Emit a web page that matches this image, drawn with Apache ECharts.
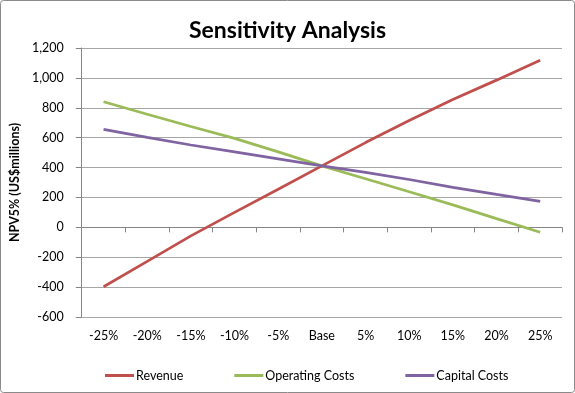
<!DOCTYPE html>
<html><head><meta charset="utf-8">
<script src="https://cdn.jsdelivr.net/npm/echarts@6/dist/echarts.min.js"></script>
<style>html,body{margin:0;padding:0;background:#fff}#c{width:575px;height:393px}</style>
</head><body><div id="c"></div>
<script>
const categories = ['-25%','-20%','-15%','-10%','-5%','Base','5%','10%','15%','20%','25%'];
const revenue = [-398,-228,-57,100,255,411,567,715,855,985,1118];
const operatingCosts = [840,757,675,595,505,411,325,238,150,58,-33];
const capitalCosts = [655,602,551,505,458,411,368,320,268,220,173];
const seriesNames = ['Revenue','Operating Costs','Capital Costs'];
const seriesColors = ['#C0504D','#9BBB59','#8064A2'];
const yMin = -600, yMax = 1200, yInterval = 200;

const font = 'Lato, Carlito, sans-serif';
const chart = echarts.init(document.getElementById('c'), null, {renderer:'canvas'});
const data = [revenue, operatingCosts, capitalCosts];
chart.setOption({
  animation:false,
  backgroundColor:'#fff',
  title:{text:'Sensitivity Analysis', left:'center', top:14,
    textStyle:{fontFamily:font, fontWeight:'bold', fontSize:23, color:'#000'}},
  grid:{left:71, right:13, top:48, bottom:76, containLabel:false},
  legend:{left:100, top:364, itemWidth:29, itemHeight:3, itemGap:51, icon:'rect',
    textStyle:{fontFamily:font, fontSize:12.5, color:'#000', padding:[0,0,0,-3]},
    data:seriesNames},
  xAxis:{type:'category', data:categories, boundaryGap:true,
    axisLine:{lineStyle:{color:'#868686', width:1}},
    axisTick:{show:true, length:5, lineStyle:{color:'#868686'}, alignWithLabel:false},
    axisLabel:{fontFamily:font, fontSize:12.5, color:'#000', margin:12, interval:0},
    splitLine:{show:false}},
  yAxis:{type:'value', min:yMin, max:yMax, interval:yInterval,
    name:'NPV5% (US$millions)', nameLocation:'middle', nameGap:48, nameRotate:90,
    nameTextStyle:{fontFamily:font, fontWeight:'bold', fontSize:12.5, color:'#000'},
    axisLine:{show:true, lineStyle:{color:'#868686', width:1}},
    axisTick:{show:true, length:6, lineStyle:{color:'#868686'}},
    axisLabel:{fontFamily:font, fontSize:12.5, color:'#000', margin:18,
      formatter:v=>v.toLocaleString('en-US')},
    splitLine:{show:true, lineStyle:{color:'#a6a6a6', width:1}}},
  series: seriesNames.map((n,i)=>({name:n, type:'line', data:data[i], symbol:'none',
    lineStyle:{color:seriesColors[i], width:2.75}, itemStyle:{color:seriesColors[i]}})),
  graphic:[{type:'rect', shape:{x:0.5,y:0.5,width:574,height:392,r:3}, silent:true,
    style:{fill:'none', stroke:'#8a8a8a', lineWidth:1}, z:100}]
});
</script></body></html>
